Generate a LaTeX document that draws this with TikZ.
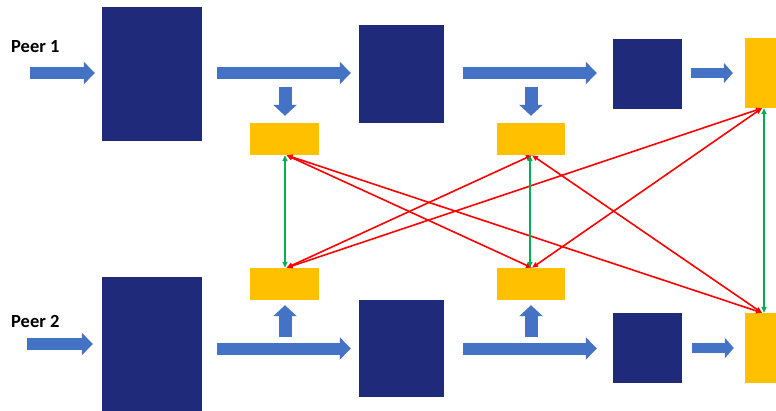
\documentclass[tikz,border=0pt]{standalone}
\usepackage{fontspec}
\setmainfont{Carlito}
\usetikzlibrary{arrows.meta}
\definecolor{navy}{HTML}{202A7A}
\definecolor{flowblue}{HTML}{4472C4}
\definecolor{amber}{HTML}{FFC000}
\definecolor{linkred}{HTML}{FF0000}
\definecolor{linkgreen}{HTML}{00B050}
\tikzset{
  stage/.style={rectangle, fill=navy, draw=none, inner sep=0pt},
  buffer/.style={rectangle, fill=amber, draw=none, inner sep=0pt},
  peerlabel/.style={font=\bfseries\fontsize{18.5}{20}\selectfont, inner sep=0pt, anchor=base west},
  flow/.style={draw=flowblue, line width=12pt, -{Triangle[length=11pt,width=22pt,fill=flowblue]}},
  smallflow/.style={draw=flowblue, line width=10pt, -{Triangle[length=9pt,width=20pt,fill=flowblue]}},
  feed/.style={draw=flowblue, line width=13pt, -{Triangle[length=11pt,width=23pt,fill=flowblue]}},
  crosslink/.style={draw=linkred, line width=1.6pt, {Triangle[length=6pt,width=5pt]}-{Triangle[length=6pt,width=5pt]}},
  peerlink/.style={draw=linkgreen, line width=1.6pt, {Triangle[length=6pt,width=5pt]}-{Triangle[length=6pt,width=5pt]}},
}
\begin{document}
\begin{tikzpicture}[x=1pt, y=-1pt]
\clip (0,0) rectangle (776,410);

% processing stages, peer 1 (top) and peer 2 (bottom)
\node[stage, minimum width=100pt, minimum height=134pt] (a1) at (152,74) {};
\node[stage, minimum width=85pt, minimum height=98pt] (b1) at (401.5,74) {};
\node[stage, minimum width=69pt, minimum height=70pt] (c1) at (647.5,74) {};
\node[buffer, minimum width=36pt, minimum height=70pt] (d1) at (763,73) {};

\node[stage, minimum width=100pt, minimum height=134pt] (a2) at (152,344) {};
\node[stage, minimum width=85pt, minimum height=97pt] (b2) at (401.5,348.5) {};
\node[stage, minimum width=69pt, minimum height=70pt] (c2) at (647.5,348) {};
\node[buffer, minimum width=36pt, minimum height=70pt] (d2) at (763,348) {};

% intermediate buffers
\node[buffer, minimum width=69pt, minimum height=32pt] (y1) at (284.5,139) {};
\node[buffer, minimum width=68pt, minimum height=32pt] (y2) at (531,139) {};
\node[buffer, minimum width=69pt, minimum height=32pt] (y3) at (284.5,284) {};
\node[buffer, minimum width=68pt, minimum height=32pt] (y4) at (531,284) {};

% peer labels
\node[peerlabel] (p1) at (11,52) {Peer 1};
\node[peerlabel] (p2) at (11,327) {Peer 2};

% free ends of the flow arrows
\coordinate (in1) at (30,73);
\coordinate (in2) at (27,344);
\coordinate (tap1) at (285,87);
\coordinate (tap2) at (531,87);
\coordinate (tap3) at (285,337);
\coordinate (tap4) at (531,337);

% data flow, peer 1
\draw[flow] (in1) -- ([xshift=-7pt]a1.west |- in1);
\draw[flow] ([xshift=15pt]a1.east |- in1) -- ([xshift=-8pt]b1.west |- in1);
\draw[flow] ([xshift=19pt]b1.east |- in1) -- ([xshift=-16pt]c1.west |- in1);
\draw[smallflow] ([xshift=9pt]c1.east |- d1) -- ([xshift=-12pt]d1.west);
\draw[feed] (tap1) -- ([yshift=7pt]tap1 |- y1.north);
\draw[feed] (tap2) -- ([yshift=7pt]tap2 |- y2.north);

% data flow, peer 2
\draw[flow] (in2) -- ([xshift=-9pt]a2.west |- in2);
\draw[flow] ([xshift=15pt]a2.east |- b2) -- ([xshift=-8pt]b2.west);
\draw[flow] ([xshift=19pt]b2.east) -- ([xshift=-16pt]c2.west |- b2);
\draw[smallflow] ([xshift=10pt]c2.east) -- ([xshift=-11pt]d2.west);
\draw[feed] (tap3) -- ([yshift=-5pt]tap3 |- y3.south);
\draw[feed] (tap4) -- ([yshift=-5pt]tap4 |- y4.south);

% cross links between buffers
\draw[crosslink] ([xshift=2pt]y1.south) -- ([xshift=1pt]y4.north);
\draw[crosslink] ([xshift=2pt]y1.south) -- ([xshift=-1pt]d2.north);
\draw[crosslink] ([xshift=2pt]y3.north) -- ([xshift=1pt]y2.south);
\draw[crosslink] ([xshift=2pt]y3.north) -- ([xshift=-1pt]d1.south);
\draw[crosslink] ([xshift=1pt]y2.south) -- ([xshift=-1pt]d2.north);
\draw[crosslink] ([xshift=1pt]y4.north) -- ([xshift=-1pt]d1.south);

% links between the peers
\draw[peerlink] ([xshift=0.5pt]y1.south) -- ([xshift=0.5pt]y3.north);
\draw[peerlink] ([xshift=-1pt]y2.south) -- ([xshift=-1pt]y4.north);
\draw[peerlink] ([xshift=1pt]d1.south) -- ([xshift=1pt]d2.north);
\end{tikzpicture}
\end{document}
